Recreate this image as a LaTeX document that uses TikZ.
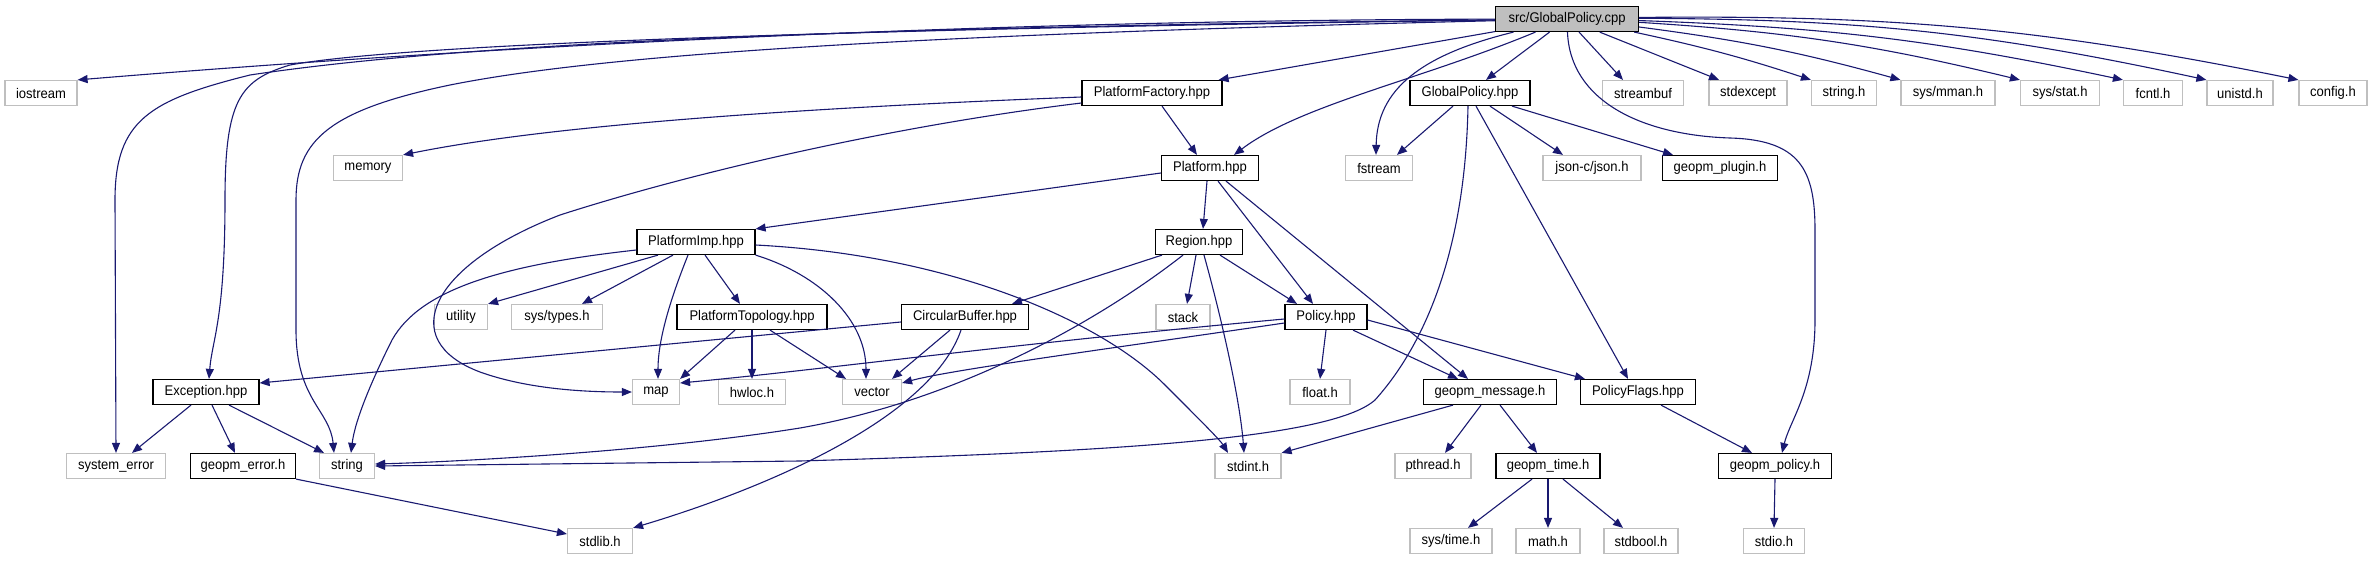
\documentclass[tikz,border=0pt]{standalone}
\usepackage{fontspec}
\setmainfont[FakeStretch=0.93]{Liberation Sans}
\usetikzlibrary{arrows.meta}
\definecolor{edgeblue}{HTML}{191970}
\definecolor{extgray}{HTML}{BFBFBF}
\definecolor{rootfill}{HTML}{BFBFBF}
\tikzset{
  box/.style={draw=black, line width=1.2pt, fill=white, minimum height=25pt, inner xsep=2pt, inner ysep=0pt, font=\fontsize{14}{16}\selectfont, minimum width=#1},
  ext/.style={box=#1, draw=extgray},
  rootbox/.style={box=#1, fill=rootfill},
  e/.style={draw=edgeblue, line width=1.1pt, -{Triangle[length=10pt,width=8pt]}},
}
\begin{document}
\begin{tikzpicture}[x=1pt,y=-1pt]
\useasboundingbox (0,0) rectangle (2372,560);
% row 0
\node[rootbox=143pt] (root) at (1567,19) {src/GlobalPolicy.cpp};
% row 1
\node[ext=72pt] (iostream) at (41,93) {iostream};
\node[box=140pt] (PlatformFactory) at (1152,93) {PlatformFactory.hpp};
\node[box=120pt] (GlobalPolicyH) at (1470,93) {GlobalPolicy.hpp};
\node[ext=81pt] (streambuf) at (1643,93) {streambuf};
\node[ext=78pt] (stdexcept) at (1748,93) {stdexcept};
\node[ext=65pt] (stringh) at (1844,93) {string.h};
\node[ext=94pt] (sysmman) at (1948,93) {sys/mman.h};
\node[ext=79pt] (sysstat) at (2060,93) {sys/stat.h};
\node[ext=59pt] (fcntl) at (2153,93) {fcntl.h};
\node[ext=66pt] (unistd) at (2240,93) {unistd.h};
\node[ext=68pt] (config) at (2333,93) {config.h};
% row 2
\node[ext=69pt] (memory) at (368,168) {memory};
\node[box=97pt] (Platform) at (1210,168) {Platform.hpp};
\node[ext=67pt] (fstream) at (1379,168) {fstream};
\node[ext=98pt] (json) at (1592,168) {json-c/json.h};
\node[box=115pt] (plugin) at (1720,168) {geopm\_plugin.h};
% row 3
\node[box=118pt] (PlatformImp) at (696,242) {PlatformImp.hpp};
\node[box=87pt] (Region) at (1199,242) {Region.hpp};
% row 4
\node[ext=53pt] (utility) at (461,317) {utility};
\node[ext=91pt] (systypes) at (557,317) {sys/types.h};
\node[box=150pt] (PlatformTopology) at (752,317) {PlatformTopology.hpp};
\node[box=127pt] (CircularBuffer) at (965,317) {CircularBuffer.hpp};
\node[ext=54pt] (stack) at (1183,317) {stack};
\node[box=82pt] (Policy) at (1326,317) {Policy.hpp};
% row 5
\node[box=106pt] (Exception) at (206,392) {Exception.hpp};
\node[ext=47pt] (map) at (656,392) {map};
\node[ext=67pt] (hwloc) at (752,392) {hwloc.h};
\node[ext=59pt] (vector) at (872,392) {vector};
\node[ext=60pt] (float) at (1320,392) {float.h};
\node[box=133pt] (message) at (1490,392) {geopm\_message.h};
\node[box=115pt] (PolicyFlags) at (1638,392) {PolicyFlags.hpp};
% row 6
\node[ext=99pt] (syserror) at (116,466) {system\_error};
\node[box=105pt] (geopmerror) at (243,466) {geopm\_error.h};
\node[ext=55pt] (string) at (347,466) {string};
\node[ext=66pt] (stdint) at (1248,466) {stdint.h};
\node[ext=76pt] (pthread) at (1433,466) {pthread.h};
\node[box=104pt] (geopmtime) at (1548,466) {geopm\_time.h};
\node[box=113pt] (geopmpolicy) at (1775,466) {geopm\_policy.h};
% row 7
\node[ext=65pt] (stdlib) at (600,541) {stdlib.h};
\node[ext=82pt] (systime) at (1451,541) {sys/time.h};
\node[ext=64pt] (math) at (1548,541) {math.h};
\node[ext=74pt] (stdbool) at (1641,541) {stdbool.h};
\node[ext=61pt] (stdio) at (1774,541) {stdio.h};

% ---- edges from root
\draw[e] (root) .. controls (1000,20) and (500,45) .. (iostream.north east);
\draw[e] (root) .. controls (800,28) and (450,45) .. (250,75) .. controls (150,100) and (115,120) .. (115,200) -- (syserror.north);
\draw[e] (root) .. controls (800,30) and (400,45) .. (290,65) .. controls (240,80) and (225,100) .. (225,200) .. controls (225,320) and (212,340) .. ([xshift=3pt]Exception.north);
\draw[e] (root) .. controls (900,35) and (600,55) .. (450,85) .. controls (330,110) and (296,140) .. (296,200) -- (296,330) .. controls (296,400) and (330,410) .. ([xshift=-13pt]string.north);
\draw[e] (root) -- ([xshift=-4pt]PlatformFactory.north east);
\draw[e] (root) .. controls (1420,80) and (1300,105) .. ([xshift=24pt]Platform.north);
\draw[e] (root) .. controls (1420,55) and (1377,90) .. ([xshift=-3pt]fstream.north);
\draw[e] (root) -- ([xshift=16pt]GlobalPolicyH.north);
\draw[e] (root) .. controls (1570,100) and (1640,135) .. (1730,138) .. controls (1800,140) and (1815,170) .. (1815,230) -- (1815,320) .. controls (1815,390) and (1790,420) .. ([xshift=7pt]geopmpolicy.north);
\draw[e] (root) -- ([xshift=-20pt]streambuf.north);
\draw[e] (root) -- ([xshift=-29pt]stdexcept.north);
\draw[e] (root) to[bend left=3] (stringh.north west);
\draw[e] (root) to[bend left=4] (sysmman.north west);
\draw[e] (root) to[bend left=5] (sysstat.north west);
\draw[e] (root) to[bend left=5] (fcntl.north west);
\draw[e] (root) to[bend left=6] (unistd.north west);
\draw[e] (root) to[bend left=6] (config.north west);

% ---- PlatformFactory
\draw[e] ([yshift=-4pt]PlatformFactory.west) .. controls (800,108) and (550,125) .. (memory.north east);
\draw[e] ([yshift=-10pt]PlatformFactory.west) .. controls (900,125) and (700,170) .. (560,215) .. controls (430,265) and (395,340) .. (480,372) .. controls (530,390) and (590,392) .. (map.west);
\draw[e] ([xshift=10pt]PlatformFactory.south) -- ([xshift=-13pt]Platform.north);

% ---- GlobalPolicy.hpp
\draw[e] ([xshift=-17pt]GlobalPolicyH.south) -- ([xshift=18pt]fstream.north);
\draw[e] ([xshift=-2pt]GlobalPolicyH.south) .. controls (1465,260) and (1420,350) .. (1375,400) .. controls (1330,440) and (1100,452) .. (800,461) -- (string.east);
\draw[e] ([xshift=6pt]GlobalPolicyH.south) -- ([xshift=-10pt]PolicyFlags.north);
\draw[e] ([xshift=20pt]GlobalPolicyH.south) -- ([xshift=-29pt]json.north);
\draw[e] ([xshift=42pt]GlobalPolicyH.south) -- ([xshift=-47pt]plugin.north);

% ---- Platform.hpp
\draw[e] ([yshift=-5pt]Platform.west) -- (PlatformImp.north east);
\draw[e] ([xshift=-3pt]Platform.south) -- ([xshift=4pt]Region.north);
\draw[e] ([xshift=8pt]Platform.south) -- ([xshift=-13pt]Policy.north);
\draw[e] ([xshift=16pt]Platform.south) -- ([xshift=-22pt]message.north);

% ---- Region.hpp
\draw[e] ([xshift=-37pt]Region.south) -- ([xshift=47pt]CircularBuffer.north);
\draw[e] ([xshift=-16pt]Region.south) .. controls (1100,320) and (960,400) .. (800,428) .. controls (650,452) and (450,462) .. ([yshift=2pt]string.east);
\draw[e] ([xshift=-3pt]Region.south) -- ([xshift=4pt]stack.north);
\draw[e] ([xshift=5pt]Region.south) .. controls (1222,320) and (1240,400) .. ([xshift=-4pt]stdint.north);
\draw[e] ([xshift=21pt]Region.south) -- ([xshift=-29pt]Policy.north);

% ---- PlatformImp.hpp
\draw[e] ([yshift=-8pt]PlatformImp.west) .. controls (500,265) and (420,290) .. (392,340) .. controls (372,380) and (355,420) .. ([xshift=4pt]string.north);
\draw[e] ([xshift=-38pt]PlatformImp.south) -- (utility.north east);
\draw[e] ([xshift=-23pt]PlatformImp.south) -- ([xshift=25pt]systypes.north);
\draw[e] ([xshift=-8pt]PlatformImp.south) .. controls (670,300) and (658,340) .. ([xshift=2pt]map.north);
\draw[e] ([xshift=9pt]PlatformImp.south) -- ([xshift=-12pt]PlatformTopology.north);
\draw[e] (PlatformImp.south east) .. controls (820,275) and (866,320) .. ([xshift=-6pt]vector.north);
\draw[e] ([yshift=-3pt]PlatformImp.east) .. controls (950,255) and (1100,320) .. (1165,385) .. controls (1200,420) and (1220,440) .. ([xshift=-20pt]stdint.north);

% ---- PlatformTopology.hpp
\draw[e] ([xshift=-17pt]PlatformTopology.south) -- (map.north east);
\draw[e] (PlatformTopology.south) -- (hwloc.north);
\draw[e] ([xshift=18pt]PlatformTopology.south) -- ([xshift=-26pt]vector.north);

% ---- CircularBuffer.hpp
\draw[e] ([yshift=-5pt]CircularBuffer.west) -- ([yshift=9pt]Exception.east);
\draw[e] ([xshift=-15pt]CircularBuffer.south) -- ([xshift=20pt]vector.north);
\draw[e] ([xshift=-4pt]CircularBuffer.south) .. controls (930,420) and (760,490) .. (stdlib.north east);

% ---- Policy.hpp
\draw[e] ([yshift=-2pt]Policy.west) .. controls (1000,345) and (820,370) .. ([yshift=9pt]map.east);
\draw[e] ([yshift=-6pt]Policy.west) .. controls (1100,350) and (950,370) .. ([yshift=9pt]vector.east);
\draw[e] (Policy.south) -- (float.north);
\draw[e] ([xshift=27pt]Policy.south) -- ([xshift=-32pt]message.north);
\draw[e] ([yshift=-3pt]Policy.east) -- ([xshift=5pt]PolicyFlags.north west);

% ---- geopm_message.h
\draw[e] ([xshift=-37pt]message.south) -- (stdint.north east);
\draw[e] ([xshift=-9pt]message.south) -- ([xshift=12pt]pthread.north);
\draw[e] ([xshift=10pt]message.south) -- ([xshift=-11pt]geopmtime.north);

% ---- geopm_time.h
\draw[e] ([xshift=-16pt]geopmtime.south) -- ([xshift=17pt]systime.north);
\draw[e] (geopmtime.south) -- (math.north);
\draw[e] ([xshift=15pt]geopmtime.south) -- ([xshift=-18pt]stdbool.north);

% ---- PolicyFlags / geopm_policy
\draw[e] ([xshift=23pt]PolicyFlags.south) -- ([xshift=-23pt]geopmpolicy.north);
\draw[e] (geopmpolicy.south) -- (stdio.north);

% ---- Exception.hpp
\draw[e] ([xshift=-15pt]Exception.south) -- ([xshift=16pt]syserror.north);
\draw[e] ([xshift=6pt]Exception.south) -- ([xshift=-8pt]geopmerror.north);
\draw[e] ([xshift=23pt]Exception.south) -- ([xshift=-23pt]string.north);

% ---- geopm_error.h
\draw[e] (geopmerror.south east) -- ([yshift=7pt]stdlib.west);
\end{tikzpicture}
\end{document}
